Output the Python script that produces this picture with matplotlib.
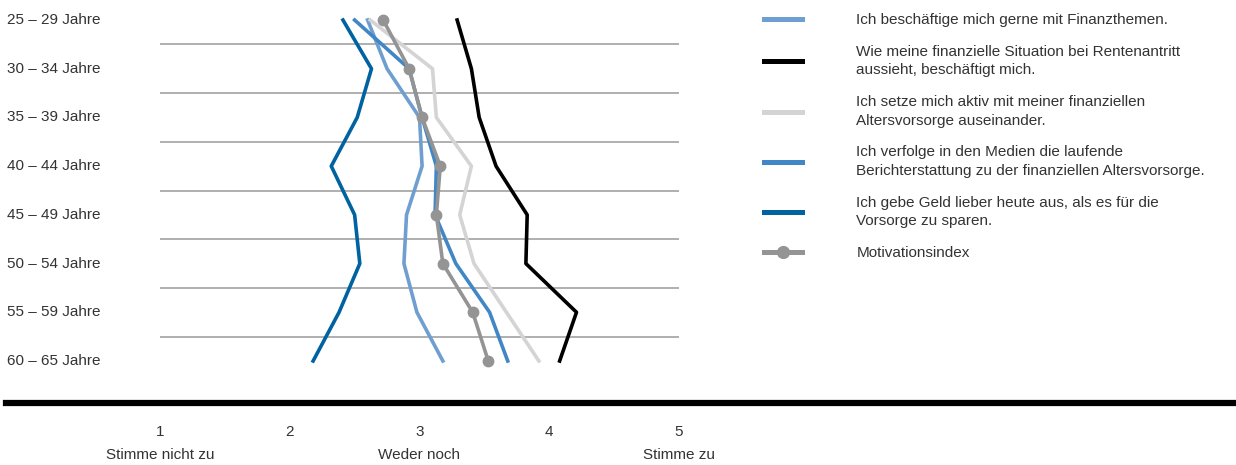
import matplotlib
matplotlib.use("Agg")
import matplotlib.pyplot as plt
from matplotlib.transforms import blended_transform_factory
from matplotlib.lines import Line2D

plt.rcParams['font.family'] = ['Liberation Sans', 'DejaVu Sans']
plt.rcParams['font.size'] = 11
plt.rcParams['text.color'] = '#333333'

# age groups (top to bottom)
ages = ['25 – 29 Jahre', '30 – 34 Jahre', '35 – 39 Jahre', '40 – 44 Jahre',
        '45 – 49 Jahre', '50 – 54 Jahre', '55 – 59 Jahre', '60 – 65 Jahre']

# mean agreement per age group, scale 1..5
finanzthemen = [2.60, 2.75, 3.00, 3.02, 2.90, 2.88, 2.98, 3.18]
rentenantritt = [3.29, 3.40, 3.46, 3.59, 3.83, 3.82, 4.21, 4.08]
aktiv = [2.62, 3.10, 3.13, 3.40, 3.31, 3.42, 3.67, 3.92]
medien = [2.50, 2.92, 3.02, 3.13, 3.12, 3.28, 3.54, 3.68]
heute_aus = [2.41, 2.63, 2.52, 2.32, 2.50, 2.54, 2.38, 2.18]
motivation = [2.72, 2.92, 3.02, 3.16, 3.13, 3.18, 3.41, 3.53]

labels = ['Ich beschäftige mich gerne mit Finanzthemen.',
          'Wie meine finanzielle Situation bei Rentenantritt\naussieht, beschäftigt mich.',
          'Ich setze mich aktiv mit meiner finanziellen\nAltersvorsorge auseinander.',
          'Ich verfolge in den Medien die laufende\nBerichterstattung zu der finanziellen Altersvorsorge.',
          'Ich gebe Geld lieber heute aus, als es für die\nVorsorge zu sparen.',
          'Motivationsindex']
colors = ['#6F9FD0', '#000000', '#D4D4D4', '#4287C5', '#0062A0', '#949494']

scale_ticks = [1, 2, 3, 4, 5]
scale_names = {1: 'Stimme nicht zu', 3: 'Weder noch', 5: 'Stimme zu'}

fig = plt.figure(figsize=(12.36, 4.65), dpi=100)
ax = fig.add_axes([160/1236, 1 - 375.6/465, 519/1236, 370.2/465])

y = list(range(len(ages)))
series = [finanzthemen, rentenantritt, aktiv, medien, heute_aus]
handles = []
for vals, col, lab in zip(series, colors[:5], labels[:5]):
    ax.plot(vals, y, color=col, lw=2.6, clip_on=False, zorder=3)
    handles.append(Line2D([], [], color=col, lw=3.6, label=lab))
ax.plot(motivation, y, color=colors[5], lw=2.6, marker='o', ms=7.5,
        clip_on=False, zorder=4)
handles.append(Line2D([], [], color=colors[5], lw=3.6, marker='o', ms=8.5,
                      label=labels[5]))

ax.set_xlim(1, 5)
ax.set_ylim(len(ages) - 1 + 0.3, -0.3)
for i in range(len(ages) - 1):
    ax.axhline(i + 0.5, color='#9a9a9a', lw=1.1, zorder=1)
for s in ax.spines.values():
    s.set_visible(False)
ax.set_xticks([])
ax.set_yticks([])

# age labels at the left edge of the figure
ty = blended_transform_factory(fig.transFigure, ax.transData)
for i, a in enumerate(ages):
    ax.text(7/1236, i, a, transform=ty, ha='left', va='center')

# thick baseline and scale labels
fig.add_artist(Line2D([6/1236, 1], [1 - 403/465] * 2, color='black', lw=4.5,
                      transform=fig.transFigure))
tx = blended_transform_factory(ax.transData, fig.transFigure)
for t in scale_ticks:
    ax.text(t, 1 - 432/465, str(t), transform=tx, ha='center', va='center')
    if t in scale_names:
        ax.text(t, 1 - 455/465, scale_names[t], transform=tx, ha='center',
                va='center')

leg = fig.legend(handles=handles, loc='upper left',
                 bbox_to_anchor=(764/1236, 1 - 13/465), frameon=False,
                 borderpad=0, borderaxespad=0, handlelength=2.5,
                 handletextpad=3.55, labelspacing=1.17, fontsize=11)
for t in leg.get_texts():
    t.set_linespacing(1.4)

fig.savefig('out.png', dpi=100)
